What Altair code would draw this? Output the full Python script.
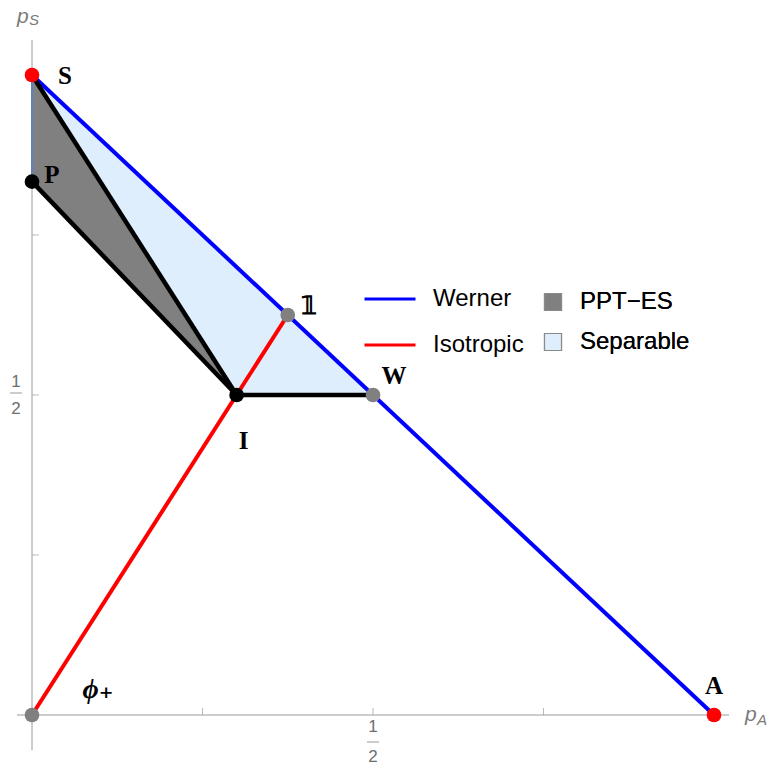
import altair as alt
import pandas as pd

# Distinguished states in the (p_A, p_S) plane
state_names = ["S", "P", "𝟙", "W", "I", "ϕ₊", "A"]
state_pA = [0.0, 0.0, 3 / 8, 1 / 2, 3 / 10, 0.0, 1.0]
state_pS = [1.0, 5 / 6, 5 / 8, 1 / 2, 1 / 2, 0.0, 0.0]
state_kind = ["pure", "bound", "mixed", "mixed", "bound", "mixed", "pure"]

# Werner and isotropic families
curve_names = ["Werner", "Werner", "Isotropic", "Isotropic"]
curve_pA = [0.0, 1.0, 0.0, 3 / 8]
curve_pS = [1.0, 0.0, 0.0, 5 / 8]

# Boundary edges between states
edge_from = ["S", "P", "I"]
edge_to = ["I", "I", "W"]

# Regions as (upper, lower) boundaries over p_A
sep_pA = [0.0, 0.3, 0.5]
sep_upper = [1.0, 0.7, 0.5]
sep_lower = [5 / 6, 0.5, 0.5]
ppt_pA = [0.0, 0.3]
ppt_upper = [1.0, 0.5]
ppt_lower = [5 / 6, 0.5]

tick_values = [0.25, 0.5, 0.75]

W, H = 773, 769
# domains chosen so the origin sits near the lower-left corner
x_dom = [-32 / 682, 741 / 682]
y_dom = [-54 / 640, 715 / 640]
xs = alt.Scale(domain=x_dom, nice=False, zero=False)
ys = alt.Scale(domain=y_dom, nice=False, zero=False)

states = pd.DataFrame({"name": state_names, "pA": state_pA, "pS": state_pS, "kind": state_kind})
curves = pd.DataFrame({"curve": curve_names, "pA": curve_pA, "pS": curve_pS,
                       "order": list(range(len(curve_names)))})
pos = {n: (a, s) for n, a, s in zip(state_names, state_pA, state_pS)}
edges = pd.DataFrame({
    "x": [pos[a][0] for a in edge_from], "y": [pos[a][1] for a in edge_from],
    "x2": [pos[b][0] for b in edge_to], "y2": [pos[b][1] for b in edge_to],
})
sep = pd.DataFrame({"region": "Separable", "pA": sep_pA, "up": sep_upper, "lo": sep_lower})
ppt = pd.DataFrame({"region": "PPT−ES", "pA": ppt_pA, "up": ppt_upper, "lo": ppt_lower})
ticks = pd.DataFrame({"t": tick_values})

X = lambda f: alt.X(f, type="quantitative", scale=xs, axis=None)
Y = lambda f: alt.Y(f, type="quantitative", scale=ys, axis=None)

fill_scale = alt.Scale(domain=["PPT−ES", "Separable"], range=["#808080", "#deeefd"])
fill_legend = alt.Legend(
    orient="none", legendX=541, legendY=290, title=None, padding=0,
    symbolType="square", symbolSize=289, symbolStrokeColor="#8a8a8a",
    symbolStrokeWidth=1.2, labelOffset=15, labelFontSize=24,
    labelFont="Liberation Sans", labelColor="black", rowPadding=16,
)
color_legend = alt.Legend(
    orient="none", legendX=363, legendY=272, title=None, padding=0,
    symbolType="stroke", symbolSize=2601, symbolStrokeWidth=3,
    labelOffset=16, labelFontSize=24, labelFont="Liberation Sans",
    labelColor="black", rowPadding=7,
)

sep_area = alt.Chart(sep).mark_area(opacity=1).encode(
    x=X("pA"), y=Y("up"), y2="lo",
    fill=alt.Fill("region:N", scale=fill_scale, legend=fill_legend),
)
ppt_area = alt.Chart(ppt).mark_area(opacity=1).encode(
    x=X("pA"), y=Y("up"), y2="lo",
    fill=alt.Fill("region:N", scale=fill_scale, legend=fill_legend),
)
sep_edge = alt.Chart(sep.head(1)).mark_rule(color="#5b82c4", strokeWidth=2).encode(
    x=X("pA"), y=Y("up"), y2="lo"
)

# axes through the origin
axis_x = alt.Chart(pd.DataFrame({"a": [-0.022], "b": [1.022], "c": [0.0]})).mark_rule(
    color="#9a9a9a", strokeWidth=1).encode(x=X("a"), x2="b", y=Y("c"))
axis_y = alt.Chart(pd.DataFrame({"a": [-0.055], "b": [1.055], "c": [0.0]})).mark_rule(
    color="#9a9a9a", strokeWidth=1).encode(y=Y("a"), y2="b", x=X("c"))
xticks = alt.Chart(ticks).mark_tick(orient="vertical", size=7, thickness=1,
                                    color="#9a9a9a", yOffset=-3.5).encode(
    x=X("t"), y=alt.Y(datum=0, type="quantitative", scale=ys, axis=None))
yticks = alt.Chart(ticks).mark_tick(orient="horizontal", size=7, thickness=1,
                                    color="#9a9a9a", xOffset=3.5).encode(
    y=Y("t"), x=alt.X(datum=0, type="quantitative", scale=xs, axis=None))

half = pd.DataFrame({"v": [0.5], "o": [0.0], "num": ["1"], "den": ["2"]})
frac_style = dict(font="Liberation Sans", fontSize=17, color="#6e6e6e", baseline="middle")
xfrac = alt.layer(
    alt.Chart(half).mark_text(dy=12, **frac_style).encode(x=X("v"), y=Y("o"), text="num"),
    alt.Chart(half).mark_text(dy=42, **frac_style).encode(x=X("v"), y=Y("o"), text="den"),
    alt.Chart(half).mark_tick(orient="horizontal", size=12, thickness=1, color="#6e6e6e",
                              yOffset=27).encode(x=X("v"), y=Y("o")),
)
yfrac = alt.layer(
    alt.Chart(half).mark_text(dx=-16, dy=-13, **frac_style).encode(x=X("o"), y=Y("v"), text="num"),
    alt.Chart(half).mark_text(dx=-16, dy=14, **frac_style).encode(x=X("o"), y=Y("v"), text="den"),
    alt.Chart(half).mark_tick(orient="horizontal", size=12, thickness=1, color="#6e6e6e",
                              xOffset=-16, yOffset=-2).encode(x=X("o"), y=Y("v")),
)

# axis titles p_S and p_A
ax_style = dict(font="Liberation Sans", fontStyle="italic", color="#7a7a7a",
                align="left", baseline="alphabetic")
corner = pd.DataFrame({"o": [0.0], "top": [1.055], "right": [1.022]})
ylabel = alt.layer(
    alt.Chart(corner).mark_text(text="p", fontSize=21, dx=-15, dy=-17, **ax_style).encode(x=X("o"), y=Y("top")),
    alt.Chart(corner).mark_text(text="S", fontSize=15, dx=-3, dy=-15, **ax_style).encode(x=X("o"), y=Y("top")),
)
xlabel = alt.layer(
    alt.Chart(corner).mark_text(text="p", fontSize=21, dx=16, dy=6, **ax_style).encode(x=X("right"), y=Y("o")),
    alt.Chart(corner).mark_text(text="A", fontSize=15, dx=28, dy=10, **ax_style).encode(x=X("right"), y=Y("o")),
)

black_edges = alt.Chart(edges).mark_rule(color="black", strokeWidth=4.5).encode(
    x=X("x"), y=Y("y"), x2="x2", y2="y2")

lines = alt.Chart(curves).mark_line(strokeWidth=4).encode(
    x=X("pA"), y=Y("pS"), order="order:Q",
    color=alt.Color("curve:N", scale=alt.Scale(domain=["Werner", "Isotropic"],
                                               range=["#0000ff", "#ff0000"]),
                    legend=color_legend),
)

points = alt.Chart(states).mark_circle(size=215, opacity=1).encode(
    x=X("pA"), y=Y("pS"),
    fill=alt.Fill("kind:N", scale=alt.Scale(domain=["pure", "bound", "mixed"],
                                            range=["#ff0000", "#000000", "#808080"]),
                  legend=None),
)

label_offset = {"S": (33, 1), "P": (20, -7), "𝟙": (21, -9), "W": (21, -19),
                "I": (7, 46), "ϕ₊": (66, -25), "A": (0, -29)}
labels = []
for n in state_names:
    dx, dy = label_offset[n]
    labels.append(
        alt.Chart(states).transform_filter(alt.datum.name == n).mark_text(
            dx=dx, dy=dy, font="Liberation Serif, DejaVu Serif", fontWeight="bold",
            fontStyle="italic" if n == "ϕ₊" else "normal",
            fontSize=28 if n == "ϕ₊" else 25, color="black",
            baseline="middle", align="center",
        ).encode(x=X("pA"), y=Y("pS"), text="name:N")
    )

chart = alt.layer(
    axis_x, axis_y, xticks, yticks, xfrac, yfrac, ylabel, xlabel,
    sep_area, ppt_area, sep_edge, lines, black_edges, points, *labels,
).resolve_scale(fill="independent").properties(
    width=W, height=H, autosize=alt.AutoSizeParams(type="none"), padding=0,
).configure_view(stroke=None)

chart.save("out.html", embed_options={"renderer": "svg", "actions": False})
